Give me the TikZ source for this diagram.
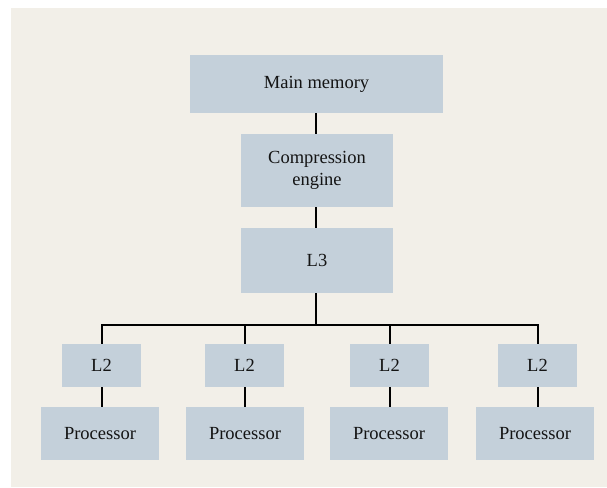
\documentclass[tikz,border=0pt]{standalone}
\usepackage{fontspec}
\setmainfont{Liberation Serif}
\definecolor{pagebg}{RGB}{242,239,232}
\definecolor{boxfill}{RGB}{196,208,218}
\definecolor{ink}{RGB}{20,20,20}
\begin{document}
\begin{tikzpicture}[x=1pt,y=-1pt,
  unit/.style={draw=none,fill=boxfill,inner sep=0pt,align=center,
    font=\fontsize{18.5}{22.5}\selectfont,text=ink},
  link/.style={draw=black,line width=2pt}]
  % canvas and panel
  \useasboundingbox (0,0) rectangle (607,487);
  \fill[white] (0,0) rectangle (607,487);
  \fill[pagebg] (11,8) rectangle (607,487);

  % memory hierarchy
  \node[unit,minimum width=253pt,minimum height=58pt] (mem) at (316.5,84) {Main memory};
  \node[unit,minimum width=152pt,minimum height=73pt] (comp) at (317,170.5) {Compression\\engine};
  \node[unit,minimum width=152pt,minimum height=65pt] (l3) at (317,260.5) {L3};

  \foreach \n/\x/\px in {a/101.5/100,b/244.5/245,c/389.5/389,d/537.5/535}{
    \node[unit,minimum width=79pt,minimum height=43pt] (l2\n) at (\x,365.5) {L2};
    \node[unit,minimum width=118pt,minimum height=53pt] (cpu\n) at (\px,433.5) {Processor};
  }

  % connectors
  \coordinate (bus) at (316,324.7);
  \draw[link] (mem.south -| bus) -- (comp.north -| bus);
  \draw[link] (comp.south -| bus) -- (l3.north -| bus);
  \draw[link] (l3.south -| bus) -- (bus);
  \draw[link] (l2a.north) |- (bus) -| (l2d.north);
  \draw[link] (l2b.north) -- (l2b.north |- bus);
  \draw[link] (l2c.north) -- (l2c.north |- bus);
  \foreach \n in {a,b,c,d}{
    \draw[link] (l2\n.south) -- (l2\n.south |- cpu\n.north);
  }
\end{tikzpicture}
\end{document}
